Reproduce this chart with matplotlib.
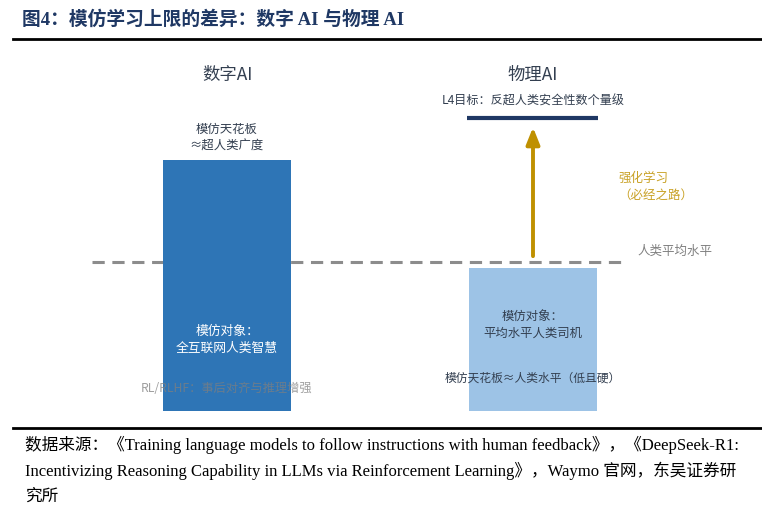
import matplotlib.pyplot as plt

plt.rcParams['font.family'] = ['Noto Sans CJK SC', 'DejaVu Sans']

# data (arbitrary "capability" units, 0 = bar base)
categories = ['数字AI', '物理AI']
bar_values = [6.95, 3.96]
human_avg = 4.13
l4_target = 8.12
rl_arrow = (4.29, 7.86)

top_labels = ['模仿天花板\n≈超人类广度', 'L4目标：反超人类安全性数个量级']
inner_labels = ['模仿对象：\n全互联网人类智慧', '模仿对象：\n平均水平人类司机']
lower_labels = ['RL/RLHF：事后对齐与推理增强', '模仿天花板≈人类水平（低且硬）']

title = '图4：模仿学习上限的差异：数字 AI 与物理 AI'
source_lines = ['数据来源：《Training language models to follow instructions with human feedback》，《DeepSeek-R1:',
                'Incentivizing Reasoning Capability in LLMs via Reinforcement Learning》，Waymo 官网，东吴证券研',
                '究所']

W, H = 762, 526
fig = plt.figure(figsize=(W / 100, H / 100), dpi=100)

# axes: y=0 at px 411, y=10 at px 50 ; x=0 at px 227, x=1 at px 533
ax = fig.add_axes([0, (H - 411) / H, 1, (411 - 50) / H])
ax.set_xlim(-227 / 306, (W - 227) / 306)
ax.set_ylim(0, 10)
ax.axis('off')

x = [0, 1]
ax.bar(x, bar_values, width=128 / 306, color=['#2e75b6', '#9dc3e6'], zorder=2)

# human average dashed line
ax.plot([(92 - 227) / 306, (627 - 227) / 306], [human_avg, human_avg],
        color='#8c8c8c', lw=2.2, dashes=(4, 2.5), zorder=1)
ax.text((637 - 227) / 306, human_avg + 0.3, '人类平均水平', color='#808080',
        fontsize=9, ha='left', va='center')

# L4 target line
ax.plot([(467 - 227) / 306, (598 - 227) / 306], [l4_target, l4_target],
        color='#1f3864', lw=3, solid_capstyle='butt')

# RL arrow
ax.annotate('', xy=(1, rl_arrow[1]), xytext=(1, rl_arrow[0]),
            arrowprops=dict(arrowstyle='-|>,head_width=0.4,head_length=1.0',
                            color='#bf9000', lw=2.8, shrinkA=0, shrinkB=0))
ax.text((618 - 227) / 306, 6.22, '强化学习\n（必经之路）', color='#c9a227',
        fontsize=9, ha='left', va='center', linespacing=1.4)

# category headings
ax.text(0, (411 - 75) / 36.1, categories[0], color='#333f50', fontsize=12.5,
        ha='center', va='center')
ax.text(1, (411 - 75) / 36.1, categories[1], color='#333f50', fontsize=12.5,
        ha='center', va='center')

ax.text(0, (411 - 138) / 36.1, top_labels[0], color='#333f50', fontsize=8.9,
        ha='center', va='center', linespacing=1.35)
ax.text(1, (411 - 101) / 36.1, top_labels[1], color='#333f50', fontsize=8.7,
        ha='center', va='center')

ax.text(0, (411 - 340) / 36.1, inner_labels[0], color='white', fontsize=9.2,
        ha='center', va='center', linespacing=1.35, zorder=3)
ax.text(1, (411 - 325) / 36.1, inner_labels[1], color='#333f50', fontsize=8.9,
        ha='center', va='center', linespacing=1.35, zorder=3)

ax.text(0, (411 - 388) / 36.1, lower_labels[0], color='#7f7f7f', alpha=0.75,
        fontsize=8.8, ha='center', va='center', zorder=3)
ax.text(1, (411 - 378) / 36.1, lower_labels[1], color='#333f50', fontsize=8.5,
        ha='center', va='center', zorder=3)

# title + rules
fig.text(22 / W, 1 - 20 / H, title, color='#1f3864', fontsize=13.5,
         fontweight='bold', ha='left', va='center',
         family=['Liberation Serif', 'Noto Sans CJK SC'])
fig.add_artist(plt.Line2D([13 / W, 761 / W], [1 - 38.5 / H] * 2, color='black', lw=2))
fig.add_artist(plt.Line2D([13 / W, 761 / W], [1 - 427.5 / H] * 2, color='black', lw=2))

for i, line in enumerate(source_lines):
    fig.text(25 / W, 1 - (445 + 26 * i) / H, line, color='black', fontsize=12,
             ha='left', va='center',
             family=['Liberation Serif', 'Noto Sans CJK SC'])

fig.savefig('out.png', dpi=100)
